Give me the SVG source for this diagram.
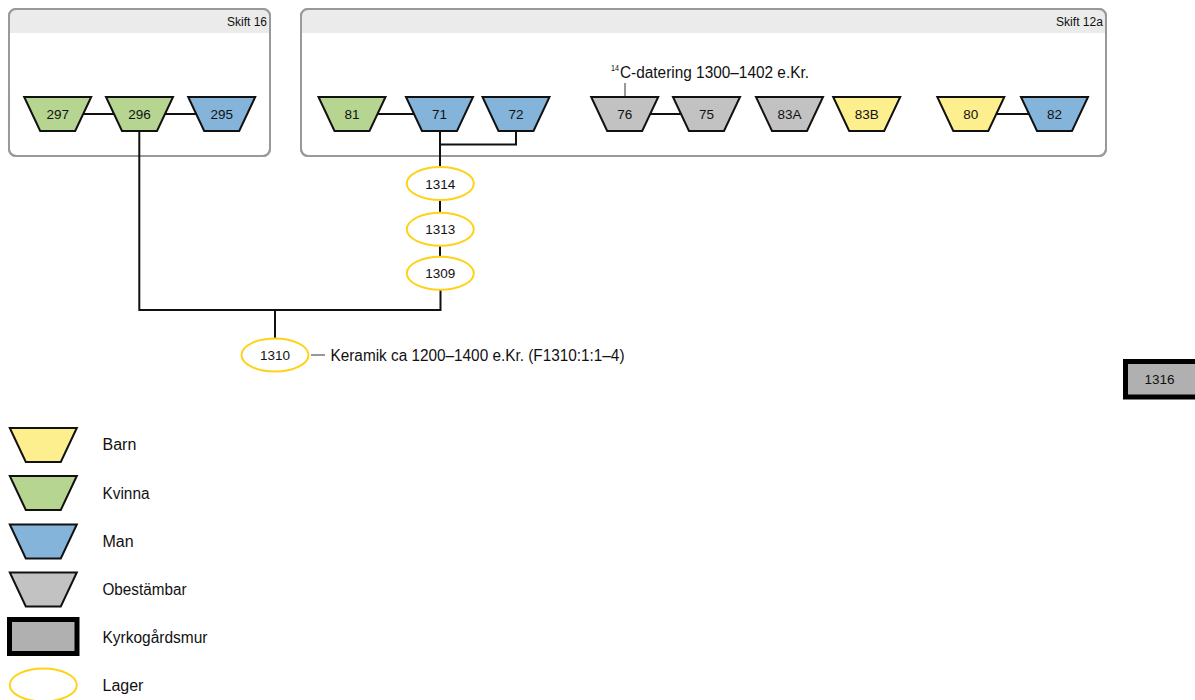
<svg xmlns="http://www.w3.org/2000/svg" xmlns:xlink="http://www.w3.org/1999/xlink" width="1195" height="700" viewBox="0 0 1195 700">
<style>
text{font-family:"Liberation Sans",Arial,sans-serif;fill:#111}
.lbl{font-size:13.5px;text-anchor:middle}
.big{font-size:16px}
.hd{font-size:12.5px;text-anchor:end}
.yel{fill:#fdef8d;stroke:#111;stroke-width:2}
.grn{fill:#b5d591;stroke:#111;stroke-width:2}
.blu{fill:#84b4da;stroke:#111;stroke-width:2}
.gry{fill:#c2c2c2;stroke:#111;stroke-width:2}
.lay{fill:#fff;stroke:#ffd21a;stroke-width:2}
.con{fill:none;stroke:#111;stroke-width:2}
.thin{fill:none;stroke:#333;stroke-width:1}
.box{fill:#fff;stroke:#999;stroke-width:2}
</style>
<defs>
<path id="trap" d="M-33.5,0 H33.5 L17.5,34 H-17.5 Z"/>
<clipPath id="c16"><rect x="9" y="9" width="261" height="147" rx="7"/></clipPath>
<clipPath id="c12"><rect x="301" y="9" width="805" height="147" rx="7"/></clipPath>
</defs>

<g id="skift16">
<rect class="box" x="9" y="9" width="261" height="147" rx="7"/>
<rect x="9" y="9" width="261" height="24" fill="#ebebeb" clip-path="url(#c16)"/>
<rect x="9" y="9" width="261" height="147" rx="7" fill="none" stroke="#999" stroke-width="2"/>
<text class="hd" x="267" y="26" textLength="40" lengthAdjust="spacingAndGlyphs">Skift 16</text>
</g>
<g id="skift12a">
<rect class="box" x="301" y="9" width="805" height="147" rx="7"/>
<rect x="301" y="9" width="805" height="24" fill="#ebebeb" clip-path="url(#c12)"/>
<rect x="301" y="9" width="805" height="147" rx="7" fill="none" stroke="#999" stroke-width="2"/>
<text class="hd" x="1103" y="26" textLength="47" lengthAdjust="spacingAndGlyphs">Skift 12a</text>
</g>

<g id="connectors">
<path class="con" d="M57.7,114 H221.7"/>
<path class="con" d="M352,114 H439.5"/>
<path class="con" d="M624.7,114 H706.5"/>
<path class="con" d="M970.8,114 H1054.5"/>
<path class="con" d="M440,120 V168"/>
<path class="con" d="M516,125 V144.5 H440"/>
<path class="con" d="M440,198 V214"/>
<path class="con" d="M440,242 V258"/>
<path class="con" d="M440.5,288 V310 H139.3 V125"/>
<path class="con" d="M275,310 V340"/>
<path class="thin" d="M625,97 V83"/>
<path class="thin" d="M311,355 H325"/>
</g>

<g id="n297" transform="translate(57.7,97)"><use xlink:href="#trap" class="grn"/><text class="lbl" x="0" y="22">297</text></g>
<g id="n296" transform="translate(139.5,97)"><use xlink:href="#trap" class="grn"/><text class="lbl" x="0" y="22">296</text></g>
<g id="n295" transform="translate(221.7,97)"><use xlink:href="#trap" class="blu"/><text class="lbl" x="0" y="22">295</text></g>
<g id="n81" transform="translate(352,97)"><use xlink:href="#trap" class="grn"/><text class="lbl" x="0" y="22">81</text></g>
<g id="n71" transform="translate(439.5,97)"><use xlink:href="#trap" class="blu"/><text class="lbl" x="0" y="22">71</text></g>
<g id="n72" transform="translate(516,97)"><use xlink:href="#trap" class="blu"/><text class="lbl" x="0" y="22">72</text></g>
<g id="n76" transform="translate(624.7,97)"><use xlink:href="#trap" class="gry"/><text class="lbl" x="0" y="22">76</text></g>
<g id="n75" transform="translate(706.5,97)"><use xlink:href="#trap" class="gry"/><text class="lbl" x="0" y="22">75</text></g>
<g id="n83A" transform="translate(789.5,97)"><use xlink:href="#trap" class="gry"/><text class="lbl" x="0" y="22">83A</text></g>
<g id="n83B" transform="translate(866.7,97)"><use xlink:href="#trap" class="yel"/><text class="lbl" x="0" y="22">83B</text></g>
<g id="n80" transform="translate(970.8,97)"><use xlink:href="#trap" class="yel"/><text class="lbl" x="0" y="22">80</text></g>
<g id="n82" transform="translate(1054.5,97)"><use xlink:href="#trap" class="blu"/><text class="lbl" x="0" y="22">82</text></g>

<g id="c14label"><text font-size="9" x="611" y="71" textLength="8" lengthAdjust="spacingAndGlyphs">14</text><text class="big" x="620" y="78" textLength="189" lengthAdjust="spacingAndGlyphs">C-datering 1300–1402 e.Kr.</text></g>

<g id="n1314"><ellipse class="lay" cx="440.3" cy="183.5" rx="33.5" ry="16.5"/><text class="lbl" x="440.3" y="188.5">1314</text></g>
<g id="n1313"><ellipse class="lay" cx="440.3" cy="229.3" rx="33.5" ry="16.5"/><text class="lbl" x="440.3" y="234.3">1313</text></g>
<g id="n1309"><ellipse class="lay" cx="440.3" cy="273.3" rx="33.5" ry="16.5"/><text class="lbl" x="440.3" y="278.3">1309</text></g>
<g id="n1310"><ellipse class="lay" cx="275" cy="355" rx="33.5" ry="16.5"/><text class="lbl" x="275" y="360">1310</text></g>
<g id="keramik"><text class="big" x="330.5" y="361" textLength="294" lengthAdjust="spacingAndGlyphs">Keramik ca 1200–1400 e.Kr. (F1310:1:1–4)</text></g>

<g id="n1316"><rect x="1125.5" y="361.5" width="72" height="35.5" fill="#b0b0b0" stroke="#000" stroke-width="5"/><text class="lbl" x="1159.5" y="384">1316</text></g>

<g id="legend">
<g id="lg-barn" transform="translate(43.3,428)"><use xlink:href="#trap" class="yel"/></g>
<text class="big" x="102.5" y="450">Barn</text>
<g id="lg-kvinna" transform="translate(43.3,476)"><use xlink:href="#trap" class="grn"/></g>
<text class="big" x="102.5" y="499" textLength="47" lengthAdjust="spacingAndGlyphs">Kvinna</text>
<g id="lg-man" transform="translate(43.3,524.5)"><use xlink:href="#trap" class="blu"/></g>
<text class="big" x="102.5" y="547">Man</text>
<g id="lg-obest" transform="translate(43.3,572.5)"><use xlink:href="#trap" class="gry"/></g>
<text class="big" x="102.5" y="595" textLength="84" lengthAdjust="spacingAndGlyphs">Obestämbar</text>
<rect x="9.5" y="619.5" width="67.5" height="34" fill="#b0b0b0" stroke="#000" stroke-width="5"/>
<text class="big" x="102.5" y="643" textLength="105" lengthAdjust="spacingAndGlyphs">Kyrkogårdsmur</text>
<ellipse class="lay" cx="43.3" cy="685" rx="33.5" ry="16.5"/>
<text class="big" x="102.5" y="691">Lager</text>
</g>
</svg>
